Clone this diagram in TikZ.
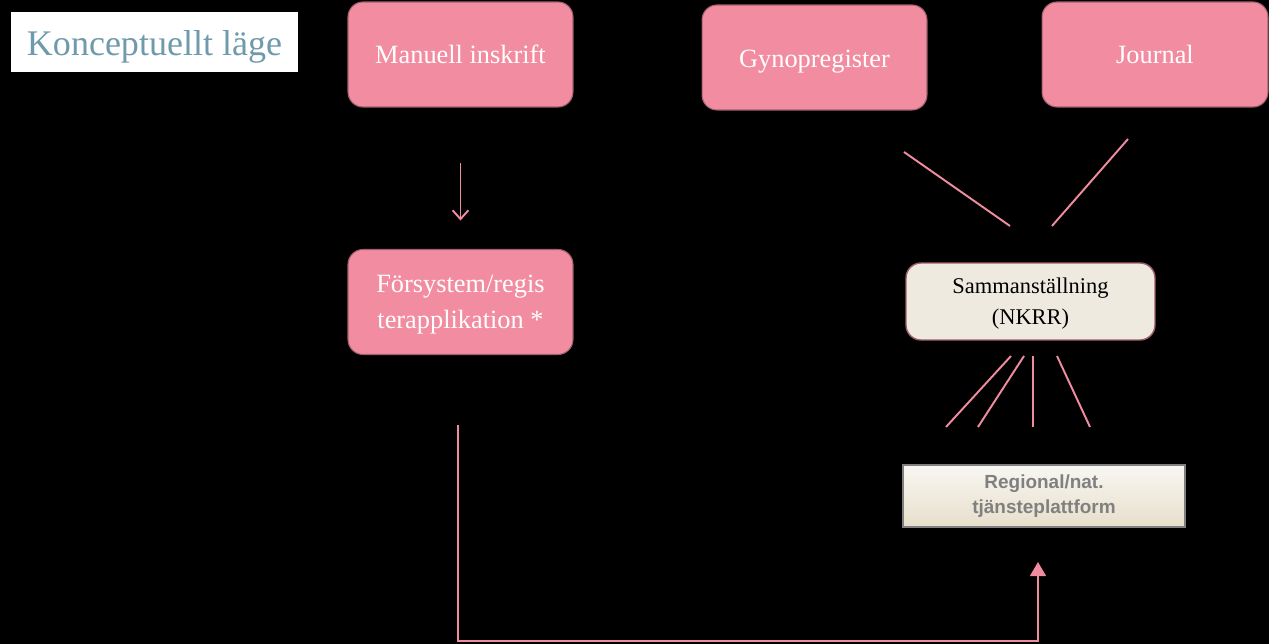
\documentclass[tikz,border=0pt]{standalone}
\usepackage{fontspec}
\setmainfont{Liberation Serif}
\newfontfamily\platformfont{Liberation Sans}
\usetikzlibrary{arrows.meta}

\definecolor{boxpink}{HTML}{F28CA0}
\definecolor{boxedge}{HTML}{A0606E}
\definecolor{linkpink}{HTML}{F08CA0}
\definecolor{cream}{HTML}{EEEAE0}
\definecolor{sand}{HTML}{E8DFCB}
\definecolor{titleblue}{HTML}{6E9AAB}
\definecolor{platgray}{HTML}{808080}

\begin{document}
\begin{tikzpicture}[x=0.02cm,y=-0.02cm,
  pinkbox/.style={rectangle,rounded corners=0.3cm,draw=boxedge,line width=0.6pt,
    fill=boxpink,text=white,align=center,inner sep=0pt,outer sep=0pt,text depth=0pt,
    minimum width=4.5cm,minimum height=2.1cm,font=\fontsize{15}{20.5}\selectfont},
  link/.style={draw=linkpink,line width=1.1pt}]

% ------------------------------------------------------------------
% Canvas
% ------------------------------------------------------------------
\fill[black] (0,0) rectangle (1269,644);
\useasboundingbox (0,0) rectangle (1269,644);

% ------------------------------------------------------------------
% Title
% ------------------------------------------------------------------
\node[fill=white,text=titleblue,inner sep=0pt,minimum width=5.74cm,minimum height=1.2cm,
  text depth=0pt,font=\fontsize{20.5}{24}\selectfont] (title) at (154.5,42)
  {\raisebox{-1.5pt}{Konceptuellt läge}};

% ------------------------------------------------------------------
% Sources (top row) and the pre-system
% ------------------------------------------------------------------
\node[pinkbox] (manuell) at (460.5,54.5) {Manuell inskrift};
\node[pinkbox] (forsys)  at (460.5,302)  {Försystem/regis\\terapplikation *};
\node[pinkbox] (gyno)    at (814.5,57.5) {\raisebox{-1.5pt}{Gynopregister}};
\node[pinkbox,minimum width=4.52cm] (journal) at (1155,54.5) {Journal};

% ------------------------------------------------------------------
% Compilation and service platform
% ------------------------------------------------------------------
\node[rectangle,rounded corners=0.3cm,draw=boxedge,line width=0.8pt,fill=cream,
  align=center,inner sep=0pt,minimum width=4.98cm,minimum height=1.54cm,text depth=0pt,
  font=\fontsize{12.8}{17.5}\selectfont] (samman) at (1030.5,301.5)
  {Sammanställning\\(NKRR)};

\node[rectangle,draw=platgray,line width=0.8pt,top color=white!60!cream,bottom color=sand,
  text=platgray,align=center,inner sep=0pt,minimum width=5.64cm,minimum height=1.24cm,
  font=\platformfont\bfseries\fontsize{10.8}{14.5}\selectfont] (platform) at (1044,496)
  {Regional/nat.\\tjänsteplattform};

% ------------------------------------------------------------------
% Loose ends of the connectors
% ------------------------------------------------------------------
\coordinate (g1) at (904,152);
\coordinate (g2) at (1010,226);
\coordinate (j1) at (1128,139);
\coordinate (j2) at (1052,226);

\coordinate (s1) at (1011,356);  \coordinate (p1) at (946,427);
\coordinate (s2) at (1024,356);  \coordinate (p2) at (978,427);
\coordinate (s3) at (1033,356);  \coordinate (p3) at (1033,427);
\coordinate (s4) at (1057,356);  \coordinate (p4) at (1090,427);

\coordinate (fsout)  at (458,425);
\coordinate (corner) at (458,641);
\coordinate (platin) at (1038,562);

% ------------------------------------------------------------------
% Connectors
% ------------------------------------------------------------------
\draw[link,-{Straight Barb[length=5pt,width=9pt]},shorten <=1.12cm,shorten >=0.58cm]
  (manuell) -- (forsys);

\draw[link] (g1) -- (g2);
\draw[link] (j1) -- (j2);

\draw[link] (s1) -- (p1);
\draw[link] (s2) -- (p2);
\draw[link] (s3) -- (p3);
\draw[link] (s4) -- (p4);

\draw[link,-{Triangle[length=8pt,width=9pt]}] (fsout) -- (corner) -| (platin);

\end{tikzpicture}
\end{document}
